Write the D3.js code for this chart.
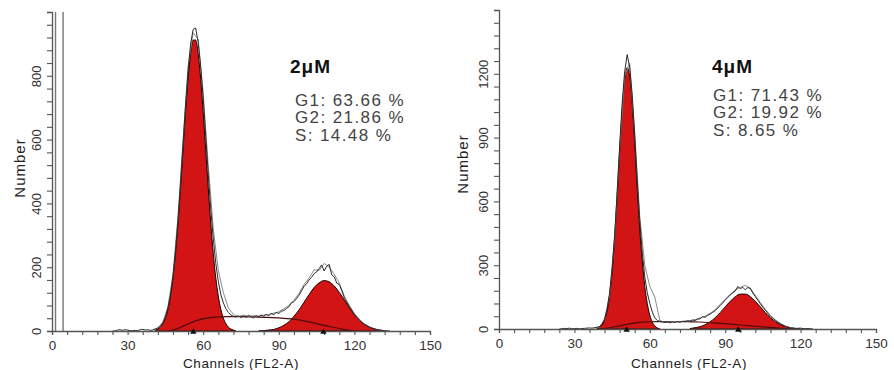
<!DOCTYPE html>
<html lang="en">
<head>
<meta charset="UTF-8">
<title>Cell cycle histograms</title>
<script src="https://cdn.jsdelivr.net/npm/d3@7/dist/d3.min.js"></script>
<style>
  body { margin: 0; background: #fff; }
  svg { display: block; font-family: "Liberation Sans", Arial, sans-serif; }
</style>
</head>
<body>
<div id="chart"></div>
<script>
// shared x axis (FL2-A channels)
const xLabels = [0, 30, 60, 90, 120, 150];
const xMinorStep = 6;

// ---- 2uM panel ----
const leftTitle = "2μM";
const leftStats = ["G1: 63.66 %", "G2: 21.86 %", "S: 14.48 %"];
const leftYLabels = [0, 200, 400, 600, 800];
const leftYMax = 1000, leftYStep = 40;
const leftGates = [1.4, 4.4];
const leftPeaks = [56.1, 107.7];

const leftRawStart = 24; // one value per channel
const leftRaw = [0, 0, 3, 4, 2, 4, 3, 1, 1, 2, 1, 4, 5, 3, 4, 2, 3, 6,
  9, 15, 26, 44, 72, 113, 172, 250, 350, 462, 585, 708, 815, 900, 945, 950, 905, 830, 728, 610, 492, 382, 290, 212, 155, 114, 88, 70, 58, 50, 46,
  44, 48, 42, 47, 43, 49, 45, 41, 48, 44, 50, 46, 52, 48, 55, 51,
  58, 55, 62, 64, 70, 76, 88, 92, 101, 112, 125, 140, 148, 160, 168, 180, 185, 196, 207, 188, 203, 209, 176, 170, 150, 146, 126, 104, 90, 77, 64, 52, 43, 34, 27, 21, 17, 12, 9, 7, 4, 3, 2, 1, 0, 0];
const leftRaw2Start = 40; // every 2 channels
const leftRaw2 = [4, 10, 28, 76, 178, 360, 598, 830, 935, 915, 745, 520, 320, 190, 120, 72, 52, 45, 50, 46, 48, 47, 50, 52, 56, 60, 70, 80, 96, 118, 146, 166, 192, 190, 212, 200, 178, 150, 110, 80, 55, 36, 22, 13, 7, 3, 1, 0];
const leftG1Start = 41; // every channel
const leftG1 = [2, 6, 12, 23, 40, 68, 109, 166, 243, 338, 449, 568, 687, 791, 870, 912, 912, 870, 791, 687, 568, 449, 338, 243, 166, 109, 68, 40, 23, 12, 6, 3, 0];
const leftG2Start = 82; // every 2 channels
const leftG2 = [0, 1, 3, 5, 10, 18, 29, 46, 66, 90, 114, 136, 151, 158, 154, 141, 121, 97, 73, 51, 34, 21, 12, 6, 3, 0];
const leftSCh = [46, 50, 54, 58, 62, 66, 70, 75, 80, 85, 90, 95, 100, 105, 110, 115, 120];
const leftS = [0, 8, 22, 34, 41, 44, 45, 45, 44, 43, 41, 38, 32, 23, 14, 6, 0];

// ---- 4uM panel ----
const rightTitle = "4μM";
const rightStats = ["G1: 71.43 %", "G2: 19.92 %", "S: 8.65 %"];
const rightYLabels = [0, 300, 600, 900, 1200];
const rightYMax = 1500, rightYStep = 60;
const rightGates = [];
const rightPeaks = [50.8, 95.2];

const rightRawStart = 24;
const rightRaw = [0, 1, 3, 2, 4, 1, 2, 3, 1, 2, 3, 4, 5, 4, 6, 8,
  12, 22, 48, 92, 168, 282, 440, 640, 860, 1060, 1210, 1290, 1230, 1100, 910, 700, 510, 360, 245, 170, 120, 80, 52, 40, 36,
  33, 30, 34, 29, 33, 31, 35, 32, 36, 34, 38, 36, 42, 40, 46, 48,
  58, 55, 64, 70, 78, 86, 98, 110, 122, 136, 148, 160, 170, 178, 200, 190, 196, 184, 195, 190, 168, 152, 135, 118, 102, 88, 74, 60, 50, 40, 31, 24, 17, 12, 8, 5, 4, 2, 3, 4, 2, 1, 3, 1, 0];
const rightRaw2Start = 38;
const rightRaw2 = [4, 10, 45, 160, 430, 850, 1190, 1250, 925, 530, 300, 200, 150, 40, 32, 33, 35, 34, 38, 40, 44, 52, 60, 74, 90, 116, 140, 164, 184, 196, 205, 192, 158, 124, 92, 64, 42, 26, 14, 7, 4, 3, 1, 0];
const rightG1Start = 39;
const rightG1 = [3, 8, 19, 42, 85, 157, 269, 425, 619, 831, 1027, 1171, 1229, 1190, 1061, 873, 661, 470, 320, 200, 120, 65, 32, 14, 5, 0];
const rightG2Start = 76;
const rightG2 = [2, 6, 11, 20, 34, 53, 77, 104, 130, 152, 164, 164, 152, 130, 104, 77, 53, 34, 20, 11, 5, 2, 0];
const rightSCh = [40, 44, 48, 52, 56, 60, 65, 70, 75, 80, 85, 90, 95, 100, 105, 110, 115];
const rightS = [0, 6, 15, 24, 31, 34, 35, 35, 34, 33, 29, 25, 20, 15, 10, 5, 0];

const W = 894, H = 370;
const red = "#d21414";

const svg = d3.select("#chart").append("svg")
  .attr("width", W)
  .attr("height", H);

// turn start + values into [channel, count] pairs
function pairs(start, step, vals) {
  return vals.map((v, i) => [start + i * step, v]);
}

function drawPanel(p) {
  const x = d3.scaleLinear().domain([0, 150]).range(p.xRange);
  const y = d3.scaleLinear().domain([0, p.yMax]).range(p.yRange);
  const g = svg.append("g");

  // gate markers
  g.selectAll(".gate").data(p.gates).join("line")
    .attr("x1", d => x(d)).attr("x2", d => x(d))
    .attr("y1", y(p.yMax)).attr("y2", y(0))
    .attr("stroke", "#777").attr("stroke-width", 1.4);

  const area = d3.area().x(d => x(d[0])).y0(y(0)).y1(d => y(d[1]));
  const line = d3.line().x(d => x(d[0])).y(d => y(d[1]));

  // G1 and G2 fits
  g.append("path").datum(p.g1)
    .attr("d", area.curve(d3.curveMonotoneX))
    .attr("fill", red).attr("stroke", "#1a0000").attr("stroke-width", 1);
  g.append("path").datum(p.g2)
    .attr("d", area.curve(d3.curveMonotoneX))
    .attr("fill", red).attr("stroke", "#1a0000").attr("stroke-width", 1);

  // S phase
  g.append("path").datum(p.s)
    .attr("d", line.curve(d3.curveMonotoneX))
    .attr("fill", "none").attr("stroke", "#4a0c0c").attr("stroke-width", 1.2);

  // raw histograms
  g.append("path").datum(p.raw2)
    .attr("d", line.curve(d3.curveLinear))
    .attr("fill", "none").attr("stroke", "#8a8a8a").attr("stroke-width", 1);
  g.append("path").datum(p.raw)
    .attr("d", line.curve(d3.curveLinear))
    .attr("fill", "none").attr("stroke", "#2a2a2a").attr("stroke-width", 1);

  // axes
  const xAxis = g.append("g")
    .attr("transform", `translate(0,${y(0)})`)
    .call(d3.axisBottom(x)
      .tickValues(d3.range(0, 151, xMinorStep))
      .tickSize(4).tickPadding(5)
      .tickFormat(d => xLabels.includes(d) ? d : ""));
  const yAxis = g.append("g")
    .attr("transform", `translate(${x(0)},0)`)
    .call(d3.axisLeft(y)
      .tickValues(d3.range(0, p.yMax + 1, p.yStep))
      .tickSize(5)
      .tickFormat(d => p.yLabels.includes(d) ? d : ""));
  [xAxis, yAxis].forEach(a => {
    a.select(".domain").attr("stroke", "#555").attr("stroke-width", 1.3);
    a.selectAll(".tick line").attr("stroke", "#555").attr("stroke-width", 1.1);
    a.selectAll("text").attr("fill", "#333").style("font-size", "13.5px");
  });
  yAxis.selectAll("text")
    .attr("transform", "rotate(-90)")
    .attr("x", 0).attr("y", -11).attr("dy", 0)
    .attr("text-anchor", "middle")
    .style("font-size", "13px");

  // peak markers
  g.selectAll(".peak").data(p.peaks).join("path")
    .attr("d", d3.symbol(d3.symbolTriangle).size(18))
    .attr("transform", d => `translate(${x(d)},${y(0) + 1})`)
    .attr("fill", "#111");

  // axis titles
  g.append("text")
    .attr("transform", `translate(${p.numberPos[0]},${p.numberPos[1]}) rotate(-90)`)
    .attr("text-anchor", "middle")
    .attr("dy", "0.35em")
    .attr("fill", "#222")
    .style("font-size", "15px")
    .style("letter-spacing", "1px")
    .text("Number");
  g.append("text")
    .attr("x", p.chanX).attr("y", 368)
    .attr("text-anchor", "middle")
    .attr("fill", "#222")
    .style("font-size", "13.5px")
    .style("letter-spacing", "0.6px")
    .text("Channels (FL2-A)");

  // title and percentages
  g.append("text")
    .attr("x", p.titlePos[0]).attr("y", p.titlePos[1])
    .attr("fill", "#111")
    .style("font-size", "19px").style("font-weight", "bold")
    .style("letter-spacing", "1px")
    .text(p.title);
  g.selectAll(".stat").data(p.stats).join("text")
    .attr("x", p.statPos[0])
    .attr("y", (d, i) => p.statPos[1] + i * 17.3)
    .attr("fill", "#444")
    .style("font-size", "17px")
    .style("letter-spacing", "1.4px")
    .text(d => d);
}

drawPanel({
  xRange: [52, 430], yRange: [331, 12], yMax: leftYMax, yStep: leftYStep,
  yLabels: leftYLabels, gates: leftGates, peaks: leftPeaks,
  raw: pairs(leftRawStart, 1, leftRaw), raw2: pairs(leftRaw2Start, 2, leftRaw2),
  g1: pairs(leftG1Start, 1, leftG1), g2: pairs(leftG2Start, 2, leftG2),
  s: leftSCh.map((c, i) => [c, leftS[i]]),
  numberPos: [20, 168], chanX: 241,
  title: leftTitle, titlePos: [290, 73],
  stats: leftStats, statPos: [295, 106]
});

drawPanel({
  xRange: [499, 876], yRange: [329, 10], yMax: rightYMax, yStep: rightYStep,
  yLabels: rightYLabels, gates: rightGates, peaks: rightPeaks,
  raw: pairs(rightRawStart, 1, rightRaw), raw2: pairs(rightRaw2Start, 2, rightRaw2),
  g1: pairs(rightG1Start, 1, rightG1), g2: pairs(rightG2Start, 2, rightG2),
  s: rightSCh.map((c, i) => [c, rightS[i]]),
  numberPos: [463, 164], chanX: 689,
  title: rightTitle, titlePos: [712, 73],
  stats: rightStats, statPos: [713, 101]
});
</script>
</body>
</html>
